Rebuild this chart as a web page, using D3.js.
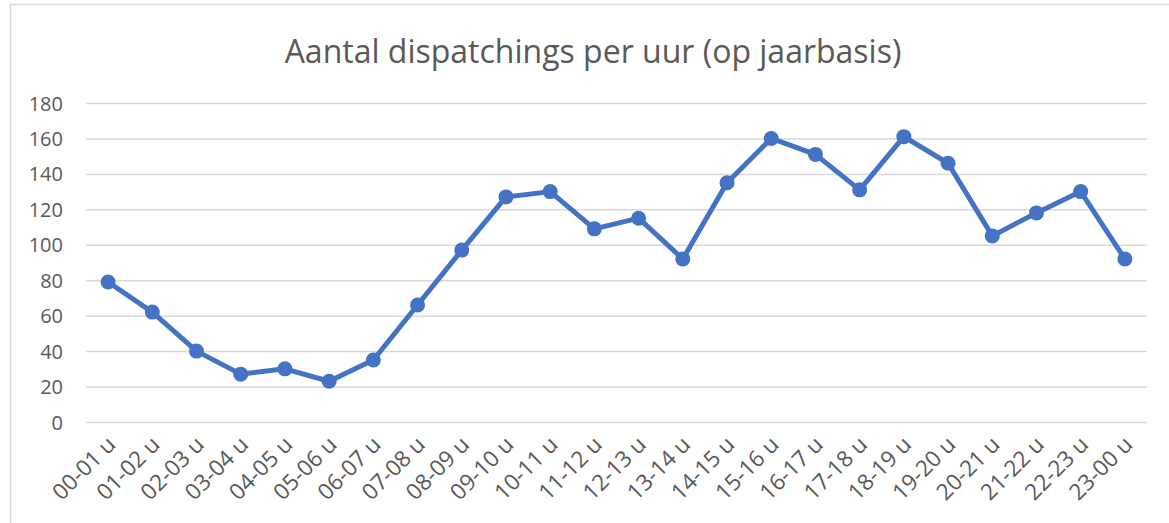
<!DOCTYPE html>
<html>
<head>
<meta charset="utf-8">
<script src="https://cdn.jsdelivr.net/npm/d3@7"></script>
<style>
  body { margin: 0; background: #fff; }
  #chart text { font-family: "Open Sans", "Noto Sans", sans-serif; fill: #595959; }
</style>
</head>
<body>
<div id="chart"></div>
<script>
// uurblokken
var hours = ["00-01 u", "01-02 u", "02-03 u", "03-04 u", "04-05 u", "05-06 u",
  "06-07 u", "07-08 u", "08-09 u", "09-10 u", "10-11 u", "11-12 u",
  "12-13 u", "13-14 u", "14-15 u", "15-16 u", "16-17 u", "17-18 u",
  "18-19 u", "19-20 u", "20-21 u", "21-22 u", "22-23 u", "23-00 u"];
var dispatchings = [79, 62, 40, 27, 30, 23, 35, 66, 97, 127, 130, 109,
  115, 92, 135, 160, 151, 131, 161, 146, 105, 118, 130, 92];
var yTicks = [0, 20, 40, 60, 80, 100, 120, 140, 160, 180];
var title = "Aantal dispatchings per uur (op jaarbasis)";

var W = 1169, H = 523;
var margin = {top: 103, right: 22, bottom: 101, left: 86},
    width = W - margin.left - margin.right,
    height = H - margin.top - margin.bottom;

var svg = d3.select("#chart")
  .append("svg")
  .attr("width", W)
  .attr("height", H);

// kader rond de grafiek
svg.append("rect")
  .attr("x", 10.5).attr("y", 4.5)
  .attr("width", W + 10).attr("height", H + 10)
  .attr("fill", "none")
  .attr("stroke", "#d9d9d9")
  .attr("stroke-width", 1.5);

svg.append("text")
  .attr("x", 593)
  .attr("y", 63)
  .attr("text-anchor", "middle")
  .style("font-size", "32px")
  .text(title);

var g = svg.append("g")
  .attr("transform", "translate(" + margin.left + "," + margin.top + ")");

var x = d3.scaleBand()
  .domain(hours)
  .range([0, width]);

var y = d3.scaleLinear()
  .domain([0, 180])
  .range([height, 0]);

// gridlijnen + y-as
var yAxis = g.append("g")
  .call(d3.axisLeft(y).tickValues(yTicks).tickSize(-width).tickPadding(23));
yAxis.select(".domain").remove();
yAxis.selectAll(".tick line")
  .attr("stroke", "#d9d9d9")
  .attr("stroke-width", 1.5);
yAxis.selectAll(".tick text")
  .style("font-size", "20px")
  .attr("dy", "0.35em");

// x-as labels schuin
var xAxis = g.append("g")
  .attr("transform", "translate(0," + height + ")")
  .call(d3.axisBottom(x).tickSize(0));
xAxis.select(".domain").remove();
xAxis.selectAll(".tick text")
  .style("font-size", "22.5px")
  .style("text-anchor", "end")
  .attr("dy", null)
  .attr("y", 0)
  .attr("transform", "translate(9,24) rotate(-45)");

var line = d3.line()
  .x(function(d, i) { return x(hours[i]) + x.bandwidth() / 2; })
  .y(function(d) { return y(d); });

g.append("path")
  .datum(dispatchings)
  .attr("d", line)
  .attr("fill", "none")
  .attr("stroke", "#4472C4")
  .attr("stroke-width", 5)
  .attr("stroke-linejoin", "round");

g.selectAll("circle.pt")
  .data(dispatchings)
  .enter()
  .append("circle")
  .attr("class", "pt")
  .attr("cx", function(d, i) { return x(hours[i]) + x.bandwidth() / 2; })
  .attr("cy", function(d) { return y(d); })
  .attr("r", 7.5)
  .attr("fill", "#4472C4");
</script>
</body>
</html>
